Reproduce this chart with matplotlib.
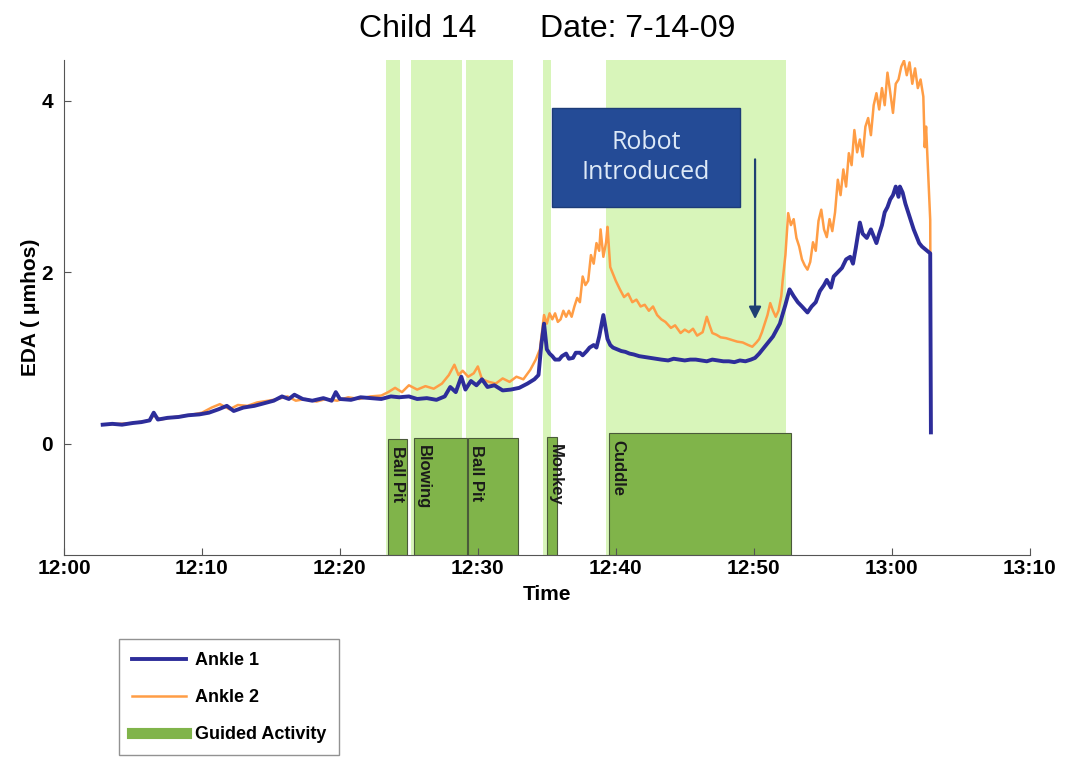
import matplotlib
matplotlib.use("Agg")
import matplotlib.pyplot as plt
from matplotlib.lines import Line2D
from matplotlib.patches import Rectangle

plt.rcParams['font.family'] = ['Liberation Sans', 'DejaVu Sans']

# (minutes after 12:00, EDA)
ankle1 = [(2.8, 0.22), (3.5, 0.23), (4.2, 0.22), (5.0, 0.24), (5.6, 0.25), (6.2, 0.27), (6.5, 0.36),
          (6.8, 0.28), (7.5, 0.30), (8.3, 0.31), (9.0, 0.33), (9.8, 0.34), (10.5, 0.36), (11.2, 0.40),
          (11.8, 0.44), (12.3, 0.38), (13.0, 0.42), (13.8, 0.44), (14.5, 0.47), (15.2, 0.50),
          (15.8, 0.55), (16.3, 0.52), (16.7, 0.57), (17.3, 0.52), (18.0, 0.50), (18.8, 0.53),
          (19.4, 0.50), (19.7, 0.60), (20.0, 0.52), (20.8, 0.51), (21.5, 0.54), (22.3, 0.53),
          (23.0, 0.52), (23.7, 0.55), (24.3, 0.54), (25.0, 0.55), (25.6, 0.52), (26.3, 0.53),
          (27.0, 0.51), (27.6, 0.55), (28.0, 0.66), (28.4, 0.60), (28.8, 0.78), (29.1, 0.63),
          (29.5, 0.73), (29.9, 0.68), (30.3, 0.75), (30.7, 0.66), (31.2, 0.68), (31.8, 0.62),
          (32.4, 0.63), (33.0, 0.65), (33.6, 0.70), (34.1, 0.75), (34.4, 0.80), (34.6, 1.15),
          (34.8, 1.40), (35.0, 1.10), (35.2, 1.05), (35.4, 1.02), (35.6, 0.98), (35.9, 0.98),
          (36.1, 1.02), (36.4, 1.05), (36.6, 0.99), (36.9, 1.00), (37.1, 1.06), (37.4, 1.06),
          (37.6, 1.03), (37.9, 1.08), (38.1, 1.12), (38.4, 1.15), (38.6, 1.12), (38.8, 1.25),
          (39.1, 1.50), (39.4, 1.22), (39.6, 1.15), (39.8, 1.12), (40.1, 1.10), (40.4, 1.08),
          (40.7, 1.07), (41.0, 1.05), (41.3, 1.04), (41.7, 1.02), (42.1, 1.01), (42.5, 1.00),
          (42.9, 0.99), (43.3, 0.98), (43.8, 0.97), (44.2, 0.99), (44.6, 0.98), (45.0, 0.97),
          (45.4, 0.98), (45.8, 0.98), (46.2, 0.97), (46.6, 0.96), (47.0, 0.98), (47.4, 0.97),
          (47.8, 0.96), (48.2, 0.96), (48.6, 0.95), (49.0, 0.97), (49.4, 0.96), (49.8, 0.98),
          (50.1, 1.00), (50.4, 1.05), (50.9, 1.15), (51.4, 1.25), (51.9, 1.40), (52.3, 1.62),
          (52.6, 1.80), (52.9, 1.72), (53.2, 1.65), (53.5, 1.60), (53.9, 1.53), (54.2, 1.60),
          (54.5, 1.65), (54.8, 1.78), (55.1, 1.85), (55.3, 1.91), (55.6, 1.82), (55.8, 1.95),
          (56.1, 2.00), (56.4, 2.05), (56.7, 2.15), (57.0, 2.18), (57.2, 2.10), (57.4, 2.28),
          (57.7, 2.58), (57.9, 2.45), (58.2, 2.40), (58.5, 2.50), (58.9, 2.34), (59.1, 2.45),
          (59.3, 2.55), (59.5, 2.70), (59.7, 2.76), (59.9, 2.85), (60.1, 2.90), (60.3, 3.00),
          (60.5, 2.88), (60.6, 3.00), (60.8, 2.93), (61.0, 2.80), (61.3, 2.65), (61.6, 2.50),
          (62.0, 2.34), (62.2, 2.30), (62.5, 2.26), (62.8, 2.22), (62.85, 0.13)]

ankle2 = [(2.8, 0.22), (4.0, 0.23), (5.0, 0.24), (6.2, 0.27), (6.5, 0.33), (7.0, 0.28), (8.0, 0.31),
          (9.0, 0.33), (10.0, 0.36), (10.7, 0.42), (11.3, 0.46), (12.0, 0.40), (12.6, 0.45),
          (13.3, 0.44), (14.0, 0.48), (14.8, 0.50), (15.5, 0.52), (16.2, 0.55), (16.8, 0.50),
          (17.5, 0.52), (18.3, 0.49), (19.0, 0.52), (19.8, 0.50), (20.6, 0.54), (21.4, 0.52),
          (22.2, 0.55), (23.0, 0.56), (23.5, 0.60), (24.0, 0.65), (24.5, 0.60), (25.0, 0.68),
          (25.6, 0.63), (26.2, 0.67), (26.8, 0.64), (27.4, 0.70), (27.9, 0.80), (28.3, 0.92),
          (28.6, 0.80), (28.9, 0.85), (29.3, 0.78), (29.7, 0.82), (30.0, 0.90), (30.3, 0.75),
          (30.8, 0.72), (31.3, 0.70), (31.8, 0.76), (32.3, 0.72), (32.8, 0.78), (33.3, 0.75),
          (33.8, 0.86), (34.2, 0.98), (34.5, 1.10), (34.8, 1.50), (35.0, 1.40), (35.2, 1.52),
          (35.4, 1.45), (35.6, 1.52), (35.8, 1.42), (36.0, 1.45), (36.2, 1.55), (36.4, 1.48),
          (36.6, 1.55), (36.8, 1.48), (37.0, 1.60), (37.2, 1.70), (37.4, 1.65), (37.6, 1.95),
          (37.8, 1.85), (38.0, 1.90), (38.2, 2.20), (38.4, 2.10), (38.6, 2.34), (38.8, 2.25),
          (38.9, 2.50), (39.1, 2.18), (39.3, 2.35), (39.4, 2.53), (39.6, 2.06), (40.0, 1.90),
          (40.3, 1.80), (40.6, 1.71), (40.9, 1.75), (41.2, 1.65), (41.5, 1.68), (41.8, 1.60),
          (42.1, 1.62), (42.4, 1.55), (42.7, 1.60), (43.0, 1.50), (43.3, 1.45), (43.6, 1.42),
          (44.0, 1.35), (44.3, 1.38), (44.7, 1.29), (45.0, 1.33), (45.3, 1.30), (45.6, 1.34),
          (45.9, 1.26), (46.3, 1.30), (46.6, 1.48), (46.8, 1.38), (47.0, 1.29), (47.3, 1.27),
          (47.6, 1.24), (48.0, 1.23), (48.4, 1.21), (48.8, 1.19), (49.2, 1.18), (49.6, 1.15),
          (49.9, 1.13), (50.2, 1.18), (50.4, 1.22), (50.6, 1.30), (50.8, 1.40), (51.0, 1.50),
          (51.2, 1.64), (51.4, 1.55), (51.6, 1.48), (51.8, 1.55), (52.0, 1.72), (52.1, 1.90),
          (52.3, 2.20), (52.5, 2.69), (52.7, 2.55), (52.9, 2.62), (53.1, 2.40), (53.3, 2.30),
          (53.5, 2.15), (53.7, 2.08), (53.9, 2.03), (54.1, 2.12), (54.3, 2.35), (54.5, 2.25),
          (54.7, 2.60), (54.9, 2.73), (55.1, 2.50), (55.3, 2.41), (55.5, 2.62), (55.7, 2.48),
          (55.9, 2.70), (56.1, 3.08), (56.3, 2.90), (56.5, 3.20), (56.7, 3.00), (56.9, 3.39),
          (57.1, 3.25), (57.3, 3.66), (57.5, 3.40), (57.7, 3.55), (57.9, 3.35), (58.1, 3.70),
          (58.3, 3.80), (58.5, 3.60), (58.7, 3.95), (58.9, 4.09), (59.1, 3.90), (59.3, 4.15),
          (59.5, 3.95), (59.7, 4.33), (59.9, 4.10), (60.1, 3.86), (60.3, 4.20), (60.5, 4.25),
          (60.7, 4.40), (60.9, 4.47), (61.1, 4.30), (61.3, 4.45), (61.5, 4.20), (61.7, 4.38),
          (61.9, 4.15), (62.1, 4.25), (62.3, 4.05), (62.4, 3.46), (62.5, 3.70), (62.8, 2.61),
          (62.85, 0.13)]

# shaded spans (light green) and activity bars (min after 12:00)
span_start = [23.35, 25.16, 29.14, 34.71, 39.26]
span_end = [24.37, 28.85, 32.54, 35.29, 52.35]
act_names = ["Ball Pit", "Blowing", "Ball Pit", "Monkey", "Cuddle"]
act_start = [23.5, 25.38, 29.28, 35.0, 39.48]
act_end = [24.87, 29.21, 32.9, 35.72, 52.71]
act_top = [0.05, 0.06, 0.06, 0.08, 0.12]

tick_min = [0, 10, 20, 30, 40, 50, 60, 70]
tick_lab = ["12:00", "12:10", "12:20", "12:30", "12:40", "12:50", "13:00", "13:10"]

c_blue = '#2d2d9a'
c_orange = '#ff9d45'
c_span = '#d8f5ba'
c_bar = '#80b44a'

ymin, ymax = -1.3, 4.48

fig = plt.figure(figsize=(10.86, 7.57), dpi=100)
ax = fig.add_axes([0.059, 0.267, 0.889, 0.654])

for s, e in zip(span_start, span_end):
    ax.axvspan(s, e, color=c_span, lw=0, zorder=0)

for name, s, e, top in zip(act_names, act_start, act_end, act_top):
    ax.add_patch(Rectangle((s, ymin), e - s, top - ymin, facecolor=c_bar,
                           edgecolor='#4a5a3a', lw=0.8, zorder=1))
    ax.text(s + 0.1, top - 0.08, name, rotation=270, ha='left', va='top',
            fontsize=12, fontweight='bold', color='#1a1a1a', zorder=2)

t2, v2 = zip(*ankle2)
t1, v1 = zip(*ankle1)
ax.plot(t2, v2, color=c_orange, lw=1.8, zorder=3)
ax.plot(t1, v1, color=c_blue, lw=2.8, zorder=4)

# annotation
ax.add_patch(Rectangle((35.4, 2.76), 13.6, 1.16, facecolor='#244b96',
                       edgecolor='#1d3c78', lw=1.0, zorder=5))
ax.text(42.2, 3.34, "Robot\nIntroduced", ha='center', va='center', fontsize=18,
        color='#dde9f7', family=['Open Sans', 'DejaVu Sans'], linespacing=1.3, zorder=6)
ax.annotate("", xy=(50.1, 1.42), xytext=(50.1, 3.35),
            arrowprops=dict(arrowstyle='-|>', color='#1f3f73', lw=1.6, mutation_scale=18),
            zorder=6)

ax.set_xlim(0, 70)
ax.set_ylim(ymin, ymax)
ax.set_xticks(tick_min)
ax.set_xticklabels(tick_lab)
ax.set_yticks([0, 2, 4])
ax.tick_params(direction='in', length=5, labelsize=15, color='#555555')
ax.tick_params(axis='x', pad=3)
ax.tick_params(axis='y', pad=8)
for lab in ax.get_xticklabels() + ax.get_yticklabels():
    lab.set_fontweight('bold')
ax.spines['top'].set_visible(False)
ax.spines['right'].set_visible(False)
ax.spines['left'].set_color('#555555')
ax.spines['bottom'].set_color('#555555')

ax.set_xlabel("Time", fontsize=15, fontweight='bold', labelpad=5)
ax.set_ylabel("EDA ( \u03bcmhos)", fontsize=15, fontweight='bold', labelpad=1)

fig.text(0.385, 0.962, "Child 14", ha='center', va='center', fontsize=23)
fig.text(0.587, 0.962, "Date: 7-14-09", ha='center', va='center', fontsize=23)

handles = [Line2D([], [], color=c_blue, lw=2.8),
           Line2D([], [], color=c_orange, lw=1.8),
           Line2D([], [], color=c_bar, lw=8)]
leg = fig.legend(handles, ["Ankle 1", "Ankle 2", "Guided Activity"],
                 loc='lower left', bbox_to_anchor=(0.11, 0.002), borderaxespad=0,
                 fancybox=False, edgecolor='#777777', handlelength=3.0, labelspacing=1.1,
                 prop={'weight': 'bold', 'size': 13}, borderpad=0.7, handletextpad=0.5)
leg.get_frame().set_linewidth(1.0)

fig.savefig("out.png", dpi=100)
